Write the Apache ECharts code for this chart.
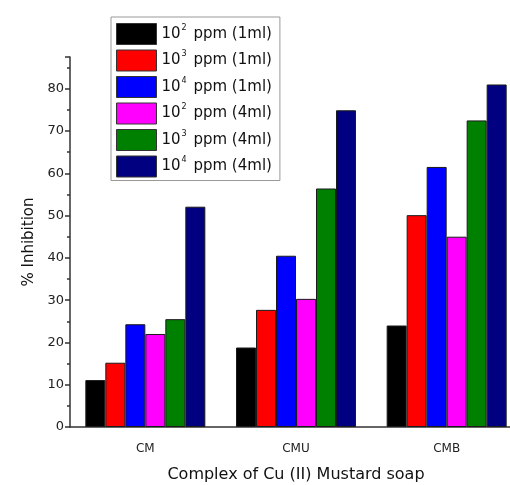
<!DOCTYPE html>
<html>
<head>
<meta charset="utf-8">
<script src="https://cdn.jsdelivr.net/npm/echarts@6/dist/echarts.min.js"></script>
<style>
html,body{margin:0;padding:0;background:#fff;}
#main{width:510px;height:485px;}
</style>
</head>
<body>
<div id="main"></div>
<script>
// 数据
var categories = ['CM', 'CMU', 'CMB'];
var seriesNames = ['10^2 ppm (1ml)', '10^3 ppm (1ml)', '10^4 ppm (1ml)', '10^2 ppm (4ml)', '10^3 ppm (4ml)', '10^4 ppm (4ml)'];
var seriesColors = ['#000000', '#ff0000', '#0000ff', '#ff00ff', '#008000', '#000080'];
var ppm2_1ml = [11.1, 18.8, 24.0];
var ppm3_1ml = [15.2, 27.7, 50.1];
var ppm4_1ml = [24.3, 40.5, 61.5];
var ppm2_4ml = [22.0, 30.3, 45.0];
var ppm3_4ml = [25.5, 56.4, 72.5];
var ppm4_4ml = [52.1, 74.9, 81.0];
var seriesValues = [ppm2_1ml, ppm3_1ml, ppm4_1ml, ppm2_4ml, ppm3_4ml, ppm4_4ml];

var font = '"DejaVu Sans", sans-serif';

var myChart = echarts.init(document.getElementById('main'));

var series = [];
for (var i = 0; i < seriesNames.length; i++) {
	series.push({
		name: seriesNames[i],
		type: 'bar',
		barWidth: 20,
		barGap: '0%',
		itemStyle: {
			color: seriesColors[i],
			borderColor: '#1a1a1a',
			borderWidth: 1
		},
		data: seriesValues[i]
	});
}

var option = {
	animation: false,
	backgroundColor: '#fff',
	textStyle: { fontFamily: font },
	legend: {
		orient: 'vertical',
		left: 111,
		top: 17,
		padding: [6, 8, 3, 5],
		itemWidth: 40,
		itemHeight: 21,
		itemGap: 4.5,
		borderColor: '#999',
		borderWidth: 1,
		icon: 'rect',
		itemStyle: { borderColor: '#333', borderWidth: 1 },
		data: seriesNames,
		formatter: function (name) {
			// 10^2 -> 上标
			return name.replace(/10\^(\d)/, '10{sup|$1}');
		},
		textStyle: {
			fontFamily: font,
			fontSize: 15,
			lineHeight: 21,
			color: '#111',
			rich: {
				sup: { fontSize: 8, verticalAlign: 'top', lineHeight: 8, color: '#111', fontFamily: font, padding: [0, 2, 8, 1] }
			}
		}
	},
	grid: { left: 70, width: 452, top: 57, bottom: 58, outerBoundsMode: 'none', containLabel: false },
	xAxis: [{
		type: 'category',
		data: categories,
		name: 'Complex of Cu (II) Mustard soap',
		nameLocation: 'middle',
		nameGap: 40,
		nameTextStyle: { fontFamily: font, fontSize: 16, color: '#111' },
		axisLine: { lineStyle: { color: '#333', width: 1.5 } },
		axisTick: { alignWithLabel: true, length: 6, lineStyle: { color: '#333', width: 1.5 } },
		axisLabel: { fontFamily: font, fontSize: 12, color: '#222', margin: 16 },
		barCategoryGap: '20%'
	}, {
		type: 'category',
		data: categories,
		position: 'bottom',
		axisLine: { show: false },
		axisTick: { length: 3, lineStyle: { color: '#333', width: 1.5 } },
		axisLabel: { show: false }
	}],
	yAxis: {
		type: 'value',
		min: 0,
		max: 87.5,
		interval: 10,
		name: '% Inhibition',
		nameLocation: 'middle',
		nameGap: 32,
		nameTextStyle: { fontFamily: font, fontSize: 15, color: '#111' },
		axisLine: { show: true, lineStyle: { color: '#333', width: 1.5 } },
		axisTick: { show: true, length: 5, lineStyle: { color: '#333', width: 1.5 } },
		minorTick: { show: true, splitNumber: 2, length: 3, lineStyle: { color: '#333', width: 1.5 } },
		splitLine: { show: false },
		axisLabel: { fontFamily: font, fontSize: 13, color: '#222', margin: 6, showMaxLabel: false }
	},
	series: series
};

myChart.setOption(option);
</script>
</body>
</html>
